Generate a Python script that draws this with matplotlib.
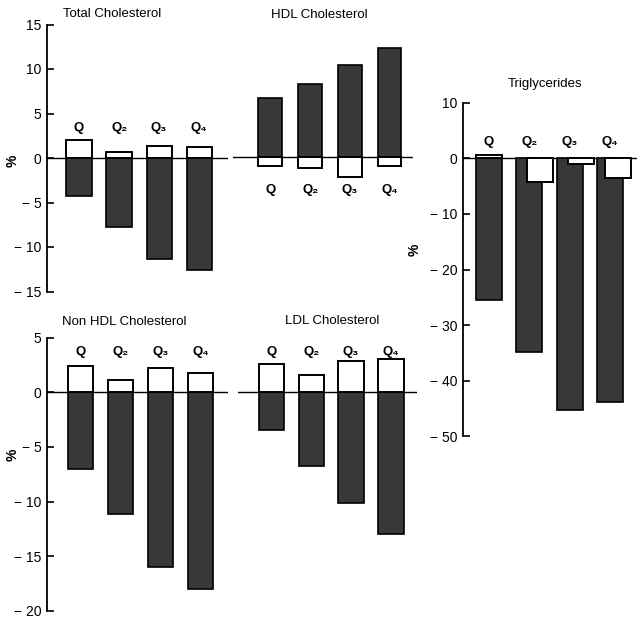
import numpy as np
import matplotlib.pyplot as plt

# tamaño de la figura en pixeles
W, H = 637, 621
DPI = 100

plt.rcParams['font.family'] = ['Liberation Sans', 'DejaVu Sans']

quartiles = ['Q', 'Q₂', 'Q₃', 'Q₄']

# cambios en % (barras oscuras y blancas)
total_dark = [-4.3, -7.8, -11.3, -12.6]
total_white = [2.0, 0.7, 1.4, 1.2]
hdl_dark = [6.6, 8.2, 10.3, 12.3]
hdl_white = [-1.0, -1.2, -2.3, -1.0]
tg_dark = [-25.5, -34.9, -45.3, -43.9]
tg_white = [0.6, -4.2, -1.1, -3.6]
nonhdl_dark = [-7.0, -11.1, -16.0, -18.0]
nonhdl_white = [2.4, 1.1, 2.2, 1.8]
ldl_dark = [-3.5, -6.8, -10.2, -13.0]
ldl_white = [2.5, 1.5, 2.8, 3.0]

total_ticks = [15, 10, 5, 0, -5, -10, -15]
tg_ticks = [10, 0, -10, -20, -30, -40, -50]
nonhdl_ticks = [5, 0, -5, -10, -15, -20]


def ejes(x0, x1, y0, y1):
    # convierte una caja en pixeles (desde arriba) a coordenadas de figura
    return fig.add_axes([x0 / W, 1 - y1 / H, (x1 - x0) / W, (y1 - y0) / H])


def etiqueta(v):
    if v < 0:
        return '\u2212 ' + str(abs(v))
    return str(v)


def panel(ax, dark, white, xlim, ylim, ticks=None, qy=3.0, shift=None, width=0.63):
    x = np.arange(len(dark))
    if shift is None:
        shift = np.zeros(len(dark))
    ax.bar(x, dark, width, color='#383838', edgecolor='black', linewidth=1.2, zorder=2)
    ax.bar(x + np.array(shift), white, width, color='white', edgecolor='black',
           linewidth=1.4, zorder=3)
    ax.axhline(0, color='black', linewidth=1.0, zorder=1)
    for xi, q in zip(x, quartiles):
        ax.text(xi, qy, q, ha='center', va='center', fontsize=9.5, fontweight='bold')
    ax.set_xlim(*xlim)
    ax.set_ylim(*ylim)
    ax.set_xticks([])
    for s in ['top', 'right', 'bottom']:
        ax.spines[s].set_visible(False)
    ax.patch.set_alpha(0)
    if ticks is None:
        ax.spines['left'].set_visible(False)
        ax.set_yticks([])
    else:
        ax.spines['left'].set_linewidth(1.3)
        ax.set_yticks(ticks)
        ax.set_yticklabels([etiqueta(t) for t in ticks], fontsize=10)
        ax.tick_params(axis='y', direction='in', length=5, width=1.2, pad=4)


fig = plt.figure(figsize=(W / DPI, H / DPI), dpi=DPI)

# colesterol total (0 en y=158, 8.9 px por unidad)
ax1 = ejes(47, 228, 158 - 15 * 8.9, 158 + 15 * 8.9)
panel(ax1, total_dark, total_white, (-0.8, 3.72), (-15, 15), total_ticks, qy=3.4)

# HDL
ax2 = ejes(233, 413, 157 - 15 * 8.9, 157 + 15 * 8.9)
panel(ax2, hdl_dark, hdl_white, (-0.94, 3.59), (-15, 15), None, qy=-3.7, width=0.6)

# trigliceridos
ax3 = ejes(463, 637, 158.3 - 10 * 5.56, 158.3 + 50 * 5.56)
panel(ax3, tg_dark, tg_white, (-0.645, 3.67), (-50, 10), tg_ticks, qy=3.0,
      shift=[0, 0.26, 0.28, 0.2], width=0.64)

# no HDL
ax4 = ejes(47, 228, 392.3 - 5 * 10.93, 392.3 + 20 * 10.93)
panel(ax4, nonhdl_dark, nonhdl_white, (-0.84, 3.69), (-20, 5), nonhdl_ticks, qy=3.66)

# LDL
ax5 = ejes(238, 417, 391.5 - 5 * 10.93, 391.5 + 20 * 10.93)
panel(ax5, ldl_dark, ldl_white, (-0.83, 3.65), (-20, 5), None, qy=3.65)

# titulos y etiquetas del eje
titulos = [('Total Cholesterol', 112, 14), ('HDL Cholesterol', 319, 15),
           ('Triglycerides', 545, 84), ('Non HDL Cholesterol', 124, 322),
           ('LDL Cholesterol', 332, 321)]
for t, px, py in titulos:
    fig.text(px / W, 1 - py / H, t, ha='center', va='center', fontsize=9.5)

for px, py in [(13, 161), (13, 455), (415, 250)]:
    fig.text(px / W, 1 - py / H, '%', ha='center', va='center', fontsize=10,
             fontweight='bold', rotation=90)

fig.savefig('out.png', dpi=DPI)
